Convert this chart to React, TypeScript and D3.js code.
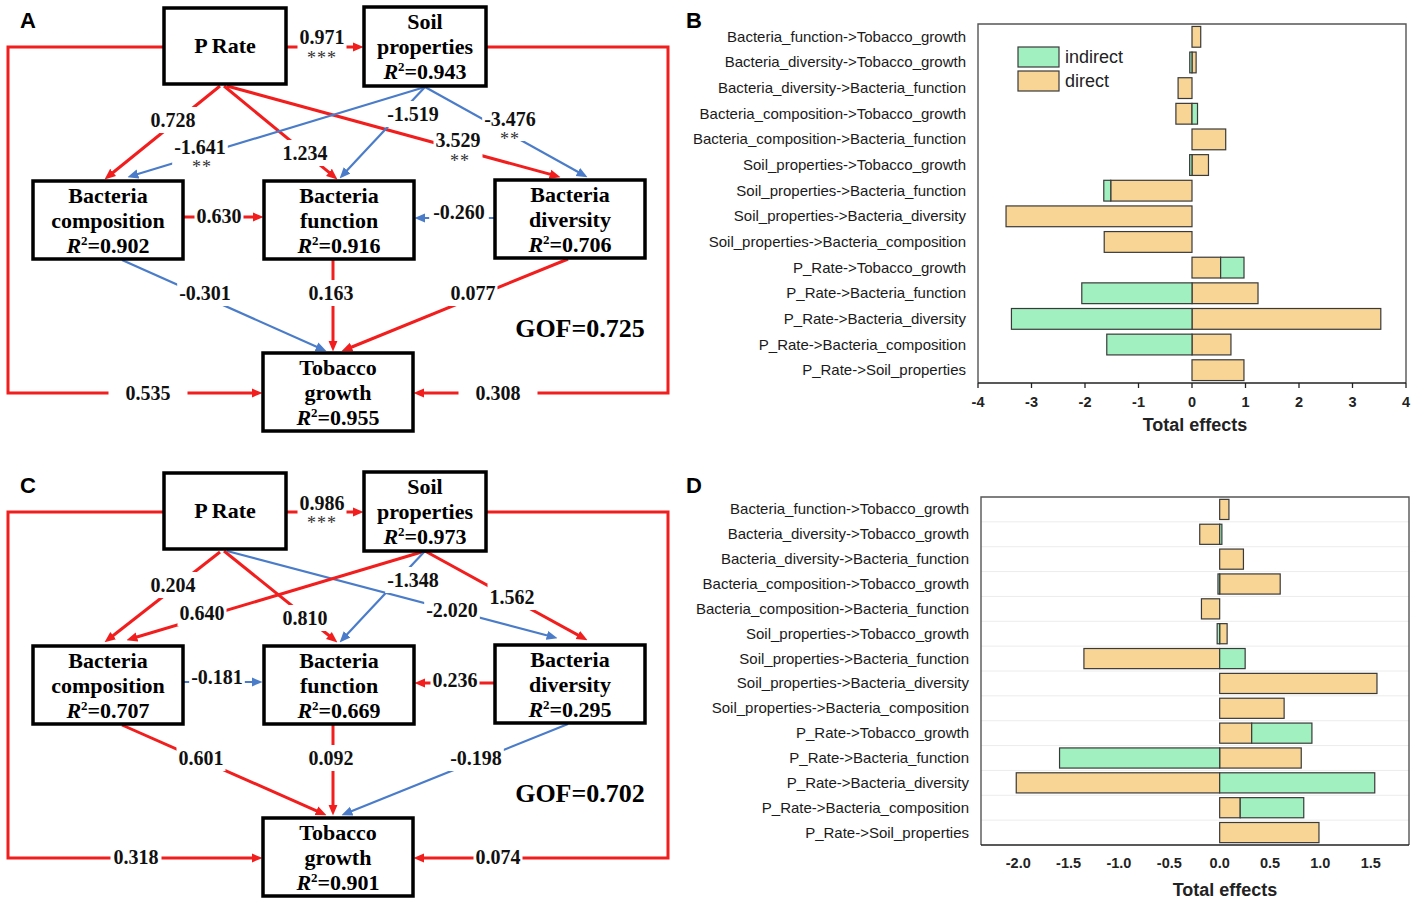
import React, { useEffect, useRef } from 'react';
import * as d3 from 'd3';

const W = 1417;
const H = 905;
const RED = '#f21d1d';
const BLUE = '#4a7cc9';
const GREEN_FILL = '#a0f0c0';
const ORANGE_FILL = '#f8d595';
const SERIF = '"Liberation Serif", "Times New Roman", serif';
const SANS = '"Liberation Sans", Arial, sans-serif';

// ---- total effects (panels B and D) ----
const effectNames = [
  'Bacteria_function->Tobacco_growth',
  'Bacteria_diversity->Tobacco_growth',
  'Bacteria_diversity->Bacteria_function',
  'Bacteria_composition->Tobacco_growth',
  'Bacteria_composition->Bacteria_function',
  'Soil_properties->Tobacco_growth',
  'Soil_properties->Bacteria_function',
  'Soil_properties->Bacteria_diversity',
  'Soil_properties->Bacteria_composition',
  'P_Rate->Tobacco_growth',
  'P_Rate->Bacteria_function',
  'P_Rate->Bacteria_diversity',
  'P_Rate->Bacteria_composition',
  'P_Rate->Soil_properties',
];

const directB = [0.163, 0.077, -0.26, -0.301, 0.63, 0.308, -1.519, -3.476, -1.641, 0.535, 1.234, 3.529, 0.728, 0.971];
const indirectB = [0, -0.042, 0, 0.103, 0, -0.044, -0.13, 0, 0, 0.437, -2.06, -3.375, -1.593, 0];
const directD = [0.092, -0.198, 0.236, 0.601, -0.181, 0.074, -1.348, 1.562, 0.64, 0.318, 0.81, -2.02, 0.204, 0.986];
const indirectD = [0, 0.022, 0, -0.017, 0, -0.025, 0.253, 0, 0, 0.598, -1.59, 1.54, 0.631, 0];

const ticksB = [-4, -3, -2, -1, 0, 1, 2, 3, 4];
const ticksD = [-2, -1.5, -1, -0.5, 0, 0.5, 1, 1.5];
const legendKeys = ['indirect', 'direct'];

// ---- path models (panels A and C) ----
const nodeIds = ['P', 'Soil', 'Comp', 'Func', 'Div', 'Tob'];
const nodeNames: Record<string, string[]> = {
  P: ['P Rate'],
  Soil: ['Soil', 'properties'],
  Comp: ['Bacteria', 'composition'],
  Func: ['Bacteria', 'function'],
  Div: ['Bacteria', 'diversity'],
  Tob: ['Tobacco', 'growth'],
};
const r2A: Record<string, string> = { Soil: '0.943', Comp: '0.902', Func: '0.916', Div: '0.706', Tob: '0.955' };
const r2C: Record<string, string> = { Soil: '0.973', Comp: '0.707', Func: '0.669', Div: '0.295', Tob: '0.901' };

const pathKeys = ['P-Soil', 'P-Comp', 'P-Func', 'P-Div', 'Soil-Comp', 'Soil-Func', 'Soil-Div',
  'Comp-Func', 'Div-Func', 'Comp-Tob', 'Func-Tob', 'Div-Tob', 'P-Tob', 'Soil-Tob'];
const coefA = [0.971, 0.728, 1.234, 3.529, -1.641, -1.519, -3.476, 0.63, -0.26, -0.301, 0.163, 0.077, 0.535, 0.308];
const sigA = ['***', '', '', '**', '**', '', '**', '', '', '', '', '', '', ''];
const coefC = [0.986, 0.204, 0.81, -2.02, 0.64, -1.348, 1.562, -0.181, 0.236, 0.601, 0.092, -0.198, 0.318, 0.074];
const sigC = ['***', '', '', '', '', '', '', '', '', '', '', '', '', ''];
const gofA = '0.725';
const gofC = '0.702';

// layout (x, y, w, h) relative to the panel top
const boxes: Record<string, number[]> = {
  P: [164, 8, 122, 76],
  Soil: [364, 7, 122, 79],
  Comp: [33, 181, 150, 78],
  Func: [264, 181, 150, 78],
  Div: [495, 180, 150, 78],
  Tob: [263, 353, 150, 78],
};

type Geo = { pts: number[][]; lab: number[]; star?: number[]; pad?: number };

const geomA: Record<string, Geo> = {
  'P-Soil': { pts: [[287, 47], [363, 47]], lab: [322, 37], star: [322, 53] },
  'P-Comp': { pts: [[220, 86], [105, 179]], lab: [173, 120] },
  'P-Func': { pts: [[224, 86], [337, 179]], lab: [305, 153] },
  'P-Div': { pts: [[227, 86], [560, 177]], lab: [458, 140], star: [460, 156] },
  'Soil-Comp': { pts: [[425, 87], [128, 177]], lab: [200, 147], star: [202, 162] },
  'Soil-Func': { pts: [[425, 87], [340, 178]], lab: [413, 114] },
  'Soil-Div': { pts: [[425, 87], [587, 177]], lab: [510, 119], star: [510, 134] },
  'Comp-Func': { pts: [[184, 217], [263, 217]], lab: [219, 216] },
  'Div-Func': { pts: [[494, 218], [415, 218]], lab: [459, 212], pad: 4 },
  'Comp-Tob': { pts: [[122, 260], [326, 351]], lab: [205, 293] },
  'Func-Tob': { pts: [[333, 260], [333, 351]], lab: [331, 293] },
  'Div-Tob': { pts: [[568, 259], [342, 351]], lab: [473, 293] },
  'P-Tob': { pts: [[163, 47], [8, 47], [8, 393], [262, 393]], lab: [148, 393], pad: 17 },
  'Soil-Tob': { pts: [[487, 47], [668, 47], [668, 393], [414, 393]], lab: [498, 393], pad: 17 },
};

const geomC: Record<string, Geo> = {
  'P-Soil': { pts: [[287, 47], [363, 47]], lab: [322, 38], star: [322, 53] },
  'P-Comp': { pts: [[220, 87], [105, 177]], lab: [173, 120] },
  'P-Func': { pts: [[224, 86], [337, 177]], lab: [305, 153] },
  'P-Div': { pts: [[227, 86], [557, 173]], lab: [452, 145] },
  'Soil-Comp': { pts: [[425, 86], [127, 175]], lab: [202, 148] },
  'Soil-Func': { pts: [[425, 86], [340, 177]], lab: [413, 115] },
  'Soil-Div': { pts: [[425, 86], [587, 175]], lab: [512, 132] },
  'Comp-Func': { pts: [[184, 217], [262, 217]], lab: [217, 212] },
  'Div-Func': { pts: [[494, 218], [415, 218]], lab: [455, 215] },
  'Comp-Tob': { pts: [[122, 260], [326, 350]], lab: [201, 293] },
  'Func-Tob': { pts: [[333, 260], [333, 350]], lab: [331, 293] },
  'Div-Tob': { pts: [[568, 259], [342, 350]], lab: [476, 293] },
  'P-Tob': { pts: [[163, 47], [8, 47], [8, 393], [262, 393]], lab: [136, 392], pad: 3 },
  'Soil-Tob': { pts: [[487, 47], [668, 47], [668, 393], [414, 393]], lab: [498, 392], pad: 2 },
};

// rough width of a bold Times number string
function numWidth(s: string, fs: number) {
  let w = 0;
  for (const ch of s) w += ch === '.' ? 0.25 : ch === '-' ? 0.333 : 0.5;
  return w * fs;
}

// pull the end of a polyline back a little so the arrowhead tip stays sharp
function shorten(pts: number[][], by: number) {
  const out = pts.map(p => [...p]);
  const a = out[out.length - 2];
  const b = out[out.length - 1];
  const len = Math.hypot(b[0] - a[0], b[1] - a[1]);
  b[0] -= ((b[0] - a[0]) / len) * by;
  b[1] -= ((b[1] - a[1]) / len) * by;
  return out;
}

function drawSem(svg: any, oy: number, coefs: number[], sigs: string[], r2: Record<string, string>,
  gof: string, letter: string, geom: Record<string, Geo>) {
  const g = svg.append('g').attr('transform', `translate(0,${oy})`);

  g.append('text')
    .attr('x', 20).attr('y', 28)
    .attr('font-family', SANS).attr('font-weight', 'bold').attr('font-size', 22)
    .text(letter);

  // path lines
  pathKeys.forEach((key, i) => {
    const pos = coefs[i] >= 0;
    const pts = shorten(geom[key].pts, 6);
    g.append('path')
      .attr('d', d3.line()(pts as [number, number][]))
      .attr('fill', 'none')
      .attr('stroke', pos ? RED : BLUE)
      .attr('stroke-width', pos ? 3 : 2.2)
      .attr('marker-end', `url(#arr-${pos ? 'red' : 'blue'})`);
  });

  // white gaps behind labels
  pathKeys.forEach((key, i) => {
    const geo = geom[key];
    const txt = coefs[i].toFixed(3);
    const pad = geo.pad ?? 2;
    const w = numWidth(txt, 20) + pad * 2;
    const y0 = geo.lab[1] - 13;
    const y1 = sigs[i] && geo.star ? geo.star[1] + 7 : geo.lab[1] + 13;
    g.append('rect')
      .attr('x', geo.lab[0] - w / 2).attr('y', y0)
      .attr('width', w).attr('height', y1 - y0)
      .attr('fill', '#fff');
  });

  pathKeys.forEach((key, i) => {
    const geo = geom[key];
    g.append('text')
      .attr('x', geo.lab[0]).attr('y', geo.lab[1] + 7)
      .attr('text-anchor', 'middle')
      .attr('font-family', SERIF).attr('font-weight', 'bold').attr('font-size', 20)
      .attr('fill', '#111')
      .text(coefs[i].toFixed(3));
    if (sigs[i] && geo.star) {
      g.append('text')
        .attr('x', geo.star[0]).attr('y', geo.star[1] + 11)
        .attr('text-anchor', 'middle')
        .attr('font-family', SERIF).attr('font-size', 18)
        .attr('letter-spacing', 1)
        .attr('fill', '#333')
        .text(sigs[i]);
    }
  });

  // boxes
  nodeIds.forEach(id => {
    const [x, y, w, h] = boxes[id];
    g.append('rect')
      .attr('x', x).attr('y', y).attr('width', w).attr('height', h)
      .attr('fill', '#fff').attr('stroke', '#000').attr('stroke-width', 3.5);
    const cx = x + w / 2;
    const names = nodeNames[id];
    const t = (yy: number) => g.append('text')
      .attr('x', cx).attr('y', yy)
      .attr('text-anchor', 'middle')
      .attr('font-family', SERIF).attr('font-weight', 'bold').attr('font-size', 22)
      .attr('fill', '#000');
    if (!r2[id]) {
      t(y + h / 2 + 7).text(names[0]);
      return;
    }
    t(y + 15 + 7).text(names[0]);
    t(y + 40 + 7).text(names[1]);
    const rt = t(y + 65 + 7);
    rt.append('tspan').attr('font-style', 'italic').text('R');
    rt.append('tspan').attr('font-size', 13).attr('dy', -8).text('2');
    rt.append('tspan').attr('dy', 8).text('=' + r2[id]);
  });

  g.append('text')
    .attr('x', 580).attr('y', 337)
    .attr('text-anchor', 'middle')
    .attr('font-family', SERIF).attr('font-weight', 'bold').attr('font-size', 26)
    .text('GOF=' + gof);
}

type EffCfg = {
  oy: number; letter: string; left: number; right: number; top: number; bottom: number;
  domain: number[]; ticks: number[]; fmt: (d: number) => string;
  direct: number[]; indirect: number[]; tickMarks: boolean; grid: boolean;
  legend: boolean; titleX: number; tickY: number; titleY: number;
};

function drawEffects(svg: any, cfg: EffCfg) {
  const g = svg.append('g');
  const x = d3.scaleLinear().domain(cfg.domain).range([cfg.left, cfg.right]);
  const y = d3.scaleBand().domain(effectNames).range([cfg.top, cfg.bottom])
    .paddingInner(0.19).paddingOuter(0.095);
  const color = d3.scaleOrdinal<string, string>().domain(['indirect', 'direct']).range([GREEN_FILL, ORANGE_FILL]);

  g.append('text')
    .attr('x', 686).attr('y', cfg.oy + 28)
    .attr('font-family', SANS).attr('font-weight', 'bold').attr('font-size', 22)
    .text(cfg.letter);

  if (cfg.grid) {
    const step = y.step();
    g.selectAll('line.grid')
      .data(d3.range(1, effectNames.length))
      .enter().append('line')
      .attr('x1', cfg.left).attr('x2', cfg.right)
      .attr('y1', (k: number) => cfg.top + k * step)
      .attr('y2', (k: number) => cfg.top + k * step)
      .attr('stroke', '#ececec').attr('stroke-width', 1);
  }

  const rows = effectNames.map((name, i) => ({ name, direct: cfg.direct[i], indirect: cfg.indirect[i] }));
  const series = d3.stack<any>().keys(['direct', 'indirect']).offset(d3.stackOffsetDiverging)(rows);

  series.forEach(s => {
    g.selectAll(null)
      .data(s.filter(d => Math.abs(d[1] - d[0]) > 1e-9))
      .enter().append('rect')
      .attr('x', (d: any) => x(Math.min(d[0], d[1])))
      .attr('width', (d: any) => Math.abs(x(d[1]) - x(d[0])))
      .attr('y', (d: any) => y(d.data.name))
      .attr('height', y.bandwidth())
      .attr('fill', color(s.key))
      .attr('stroke', '#3a3a3a').attr('stroke-width', 1.2);
  });

  // frame
  g.append('path')
    .attr('d', `M${cfg.left},${cfg.bottom}V${cfg.top}H${cfg.right}V${cfg.bottom}`)
    .attr('fill', 'none').attr('stroke', '#555').attr('stroke-width', 1.4);
  g.append('line')
    .attr('x1', cfg.left).attr('x2', cfg.right)
    .attr('y1', cfg.bottom).attr('y2', cfg.bottom)
    .attr('stroke', '#222').attr('stroke-width', 1.5);

  if (cfg.tickMarks) {
    g.selectAll(null).data(cfg.ticks).enter().append('line')
      .attr('x1', (d: number) => x(d)).attr('x2', (d: number) => x(d))
      .attr('y1', cfg.bottom).attr('y2', cfg.bottom + 5)
      .attr('stroke', '#222').attr('stroke-width', 1.3);
  }
  g.selectAll(null).data(cfg.ticks).enter().append('text')
    .attr('x', (d: number) => x(d)).attr('y', cfg.tickY)
    .attr('text-anchor', 'middle')
    .attr('font-family', SANS).attr('font-weight', 'bold').attr('font-size', 14.5)
    .attr('fill', '#222')
    .text((d: number) => cfg.fmt(d));

  g.append('text')
    .attr('x', cfg.titleX).attr('y', cfg.titleY)
    .attr('text-anchor', 'middle')
    .attr('font-family', SANS).attr('font-weight', 'bold').attr('font-size', 18)
    .attr('fill', '#222')
    .text('Total effects');

  // category labels
  g.selectAll(null).data(effectNames).enter().append('text')
    .attr('x', cfg.left - 12)
    .attr('y', (d: string) => (y(d) as number) + y.bandwidth() / 2 + 5)
    .attr('text-anchor', 'end')
    .attr('font-family', SANS).attr('font-size', 15)
    .attr('fill', '#1a1a1a')
    .text((d: string) => d);

  if (cfg.legend) {
    legendKeys.forEach((k, i) => {
      g.append('rect')
        .attr('x', 1018).attr('y', cfg.oy + 47 + i * 24)
        .attr('width', 41).attr('height', 20)
        .attr('fill', color(k)).attr('stroke', '#3a3a3a').attr('stroke-width', 1.2);
      g.append('text')
        .attr('x', 1065).attr('y', cfg.oy + 63 + i * 24)
        .attr('font-family', SANS).attr('font-size', 18)
        .attr('fill', '#222')
        .text(k);
    });
  }
}

export default function App() {
  const svgRef = useRef<SVGSVGElement>(null);

  useEffect(() => {
    if (!svgRef.current) return;
    document.body.style.margin = '0';
    const svg = d3.select(svgRef.current);
    svg.selectAll('*').remove();

    const defs = svg.append('defs');
    [['red', RED], ['blue', BLUE]].forEach(([id, c]) => {
      defs.append('marker')
        .attr('id', 'arr-' + id)
        .attr('viewBox', '0 -5 10 10')
        .attr('refX', 4).attr('refY', 0)
        .attr('markerWidth', 11).attr('markerHeight', 11)
        .attr('markerUnits', 'userSpaceOnUse')
        .attr('orient', 'auto')
        .append('path').attr('d', 'M0,-4.2L10,0L0,4.2Z').attr('fill', c);
    });

    drawSem(svg, 0, coefA, sigA, r2A, gofA, 'A', geomA);
    drawSem(svg, 465, coefC, sigC, r2C, gofC, 'C', geomC);

    drawEffects(svg, {
      oy: 0, letter: 'B', left: 978, right: 1406, top: 24, bottom: 383,
      domain: [-4, 4], ticks: ticksB, fmt: d => String(d),
      direct: directB, indirect: indirectB, tickMarks: true, grid: false,
      legend: true, titleX: 1195, tickY: 407, titleY: 431,
    });
    drawEffects(svg, {
      oy: 465, letter: 'D', left: 981, right: 1409, top: 497, bottom: 845,
      domain: [-2.37, 1.88], ticks: ticksD, fmt: d => d.toFixed(1),
      direct: directD, indirect: indirectD, tickMarks: false, grid: true,
      legend: false, titleX: 1225, tickY: 868, titleY: 896,
    });
  }, []);

  return <svg ref={svgRef} width={W} height={H} style={{ display: 'block', background: '#fff' }} />;
}
